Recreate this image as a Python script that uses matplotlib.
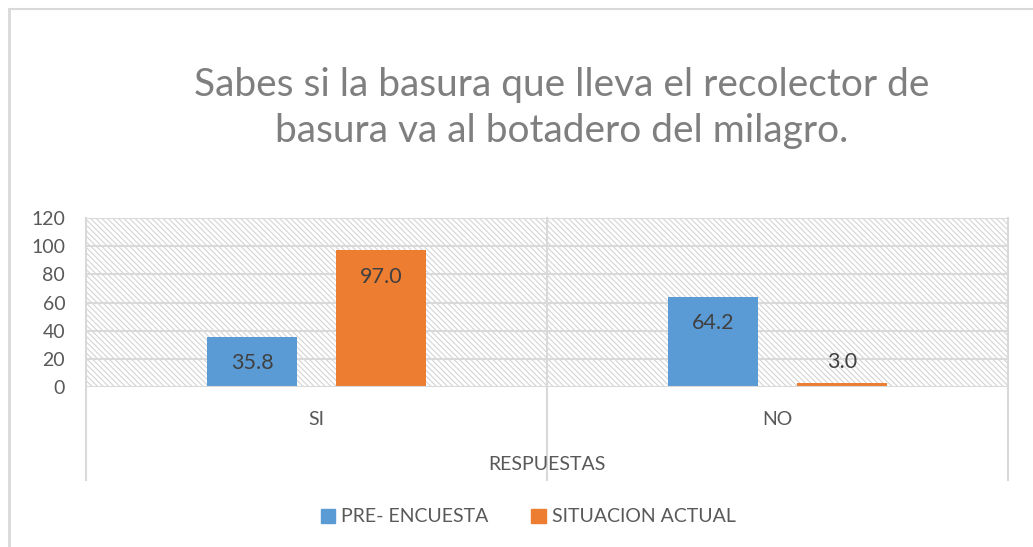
import matplotlib
matplotlib.use("Agg")
import matplotlib.pyplot as plt
from matplotlib.lines import Line2D
from matplotlib.patches import Rectangle
import numpy as np

# DATA
categories = ["SI", "NO"]
pre_encuesta = [35.8, 64.2]
situacion_actual = [97.0, 3.0]
series_names = ["PRE- ENCUESTA", "SITUACION ACTUAL"]
y_ticks = [0, 20, 40, 60, 80, 100, 120]

title = "Sabes si la basura que lleva el recolector de\nbasura va al botadero del milagro."
x_label = "RESPUESTAS"

# STYLE
BLUE = "#5b9bd5"
ORANGE = "#ed7d31"
GRID = "#d9d9d9"
TEXT = "#595959"
plt.rcParams["font.family"] = ["Lato", "DejaVu Sans"]
plt.rcParams["hatch.linewidth"] = 0.8

W, H = 1033, 547
fig = plt.figure(figsize=(W / 100, H / 100), dpi=100)
ax = fig.add_axes([86 / W, 1 - 387 / H, (1008 - 86) / W, (387 - 218) / H])

# hatched background
bg = Rectangle((0, 0), 1, 1, transform=ax.transAxes, facecolor="white",
               edgecolor="#d4d4d4", hatch="\\\\\\\\\\\\", lw=0, zorder=0)
ax.add_patch(bg)

x = np.arange(len(categories))
width = 0.197
offset = 0.14
b1 = ax.bar(x - offset, pre_encuesta, width, color=BLUE, zorder=3, label=series_names[0])
b2 = ax.bar(x + offset, situacion_actual, width, color=ORANGE, zorder=3, label=series_names[1])

# data labels (inside end, above when bar is too small)
for bars in (b1, b2):
    for rect in bars:
        v = rect.get_height()
        cx = rect.get_x() + rect.get_width() / 2
        if v > 10:
            ax.text(cx, v - 19, f"{v:.1f}", ha="center", va="center",
                    fontsize=15.5, color="#404040", zorder=4)
        else:
            ax.text(cx, v + 15, f"{v:.1f}", ha="center", va="center",
                    fontsize=15.5, color="#404040", zorder=4)

ax.set_xlim(-0.5, 1.5)
ax.set_ylim(0, 120)
ax.set_yticks(y_ticks)
ax.set_yticklabels([str(t) for t in y_ticks], fontsize=14, color=TEXT)
ax.tick_params(axis="y", length=0, pad=15)
ax.tick_params(axis="x", length=0)
ax.set_xticks([])
for t in y_ticks[1:]:
    ax.axhline(t, color=GRID, lw=1.5, zorder=1)
for s in ax.spines.values():
    s.set_visible(False)
ax.axhline(0, color=GRID, lw=1.5, zorder=5)

# category dividers that run down into the label area
for xv in (-0.5, 0.5, 1.5):
    ax.add_line(Line2D([xv, xv], [1.0, -0.55], transform=ax.get_xaxis_transform(),
                       color=GRID, lw=1.5, clip_on=False, zorder=1))

for i, c in enumerate(categories):
    ax.text(i, -0.195, c, transform=ax.get_xaxis_transform(), ha="center", va="center",
            fontsize=14, color=TEXT)
ax.text(0.5, -0.46, x_label, transform=ax.transAxes, ha="center", va="center",
        fontsize=14, color=TEXT)

fig.text(562 / W, 1 - 108 / H, title, ha="center", va="center", fontsize=28,
         color="#7f7f7f", linespacing=1.32)

# legend
handles = [Rectangle((0, 0), 1, 1, color=BLUE), Rectangle((0, 0), 1, 1, color=ORANGE)]
fig.legend(handles, series_names, loc="center", bbox_to_anchor=(528 / W, 1 - 517 / H),
           ncol=2, frameon=False, fontsize=14, labelcolor=TEXT,
           handlelength=0.75, handleheight=0.75, handletextpad=0.3, columnspacing=2.2)

# chart frame
fig.add_artist(Line2D([9 / W, 9 / W], [0, 1 - 9 / H], color="#d9d9d9", lw=2))
fig.add_artist(Line2D([9 / W, 1], [1 - 9 / H, 1 - 9 / H], color="#d9d9d9", lw=1.5))

fig.savefig("out.png", dpi=100)
